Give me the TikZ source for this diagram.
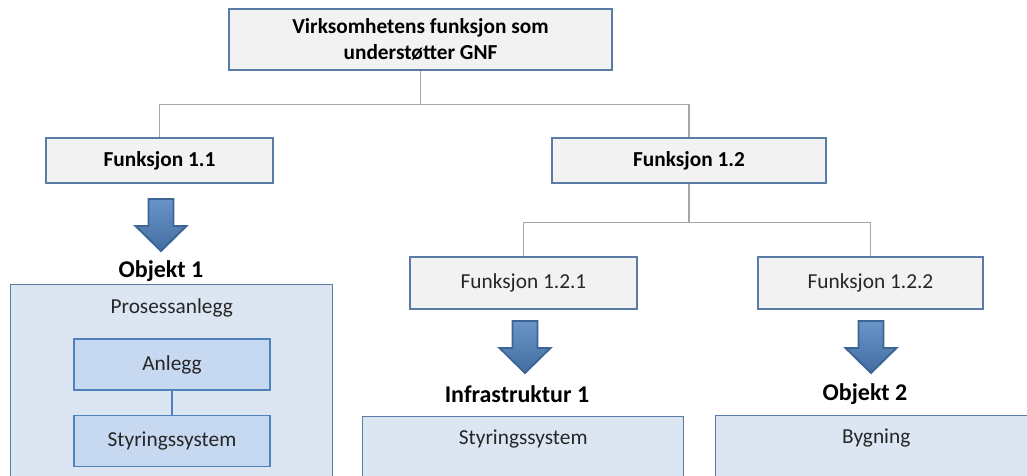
\documentclass[tikz,border=0pt]{standalone}
\usepackage{fontspec}
\setmainfont{Carlito}
\usetikzlibrary{positioning}

\definecolor{boksgraa}{HTML}{F2F2F2}
\definecolor{boksramme}{HTML}{5A7BA6}
\definecolor{linjegraa}{HTML}{A5A5A5}
\definecolor{lysblaa}{HTML}{DCE6F2}
\definecolor{mellomblaa}{HTML}{C6D9F1}
\definecolor{kantblaa}{HTML}{4F81BD}
\definecolor{morkblaa}{HTML}{3C6595}
\definecolor{tekstgraa}{HTML}{262626}

\begin{document}
\begin{tikzpicture}
			[x=0.75pt,y=-0.75pt,
			funksjon/.style={draw=boksramme,fill=boksgraa,line width=0.9pt,
				minimum height=33.75pt,inner sep=2pt,text=black,
				font=\fontsize{16}{20}\selectfont\bfseries},
			underfunksjon/.style={funksjon,minimum height=39pt,text=tekstgraa,
				font=\fontsize{16}{20}\selectfont},
			objekt/.style={draw=boksramme,fill=lysblaa,line width=1.1pt,
				anchor=north west,minimum height=150pt,inner sep=0pt},
			delboks/.style={draw=kantblaa,fill=mellomblaa,line width=0.9pt,
				minimum width=147pt,minimum height=38.25pt,text=tekstgraa,
				font=\fontsize{16}{20}\selectfont},
			tittel/.style={font=\fontsize{18}{22}\selectfont\bfseries,inner sep=0pt},
			boksnavn/.style={text=tekstgraa,font=\fontsize{16}{20}\selectfont,inner sep=0pt},
			linje/.style={draw=linjegraa,line width=1.1pt},
			innerlinje/.style={draw=kantblaa,line width=1.1pt},
			pil/.pic={
				\draw[draw=morkblaa,line width=1.4pt,top color=kantblaa!85!white,bottom color=kantblaa!85!black,shading angle=0]
					(-12.5,0) -- (12.5,0) -- (12.5,27) -- (25.5,27) -- (0,52) -- (-25.5,27) -- (-12.5,27) -- cycle;
			}]
			\useasboundingbox (0,0) rectangle (1027,475);
			\clip (0,0) rectangle (1027,475);
			% toppnivaa
			\node[funksjon,minimum width=287.25pt,minimum height=45.75pt,align=center] (topp) at (420.5,39.5)
				{Virksomhetens funksjon som\\underst\o tter GNF};
			\node[funksjon,minimum width=170.25pt] (f11) at (159.5,160.5) {Funksjon 1.1};
			\node[funksjon,minimum width=205.5pt] (f12) at (689,160.5) {Funksjon 1.2};
			\node[underfunksjon,minimum width=170.25pt] (f121) at (523.5,283) {Funksjon 1.2.1};
			\node[underfunksjon,minimum width=168.75pt] (f122) at (870.5,283) {Funksjon 1.2.2};
			\draw[linje] (topp.south) -- ++(0,34) -| (f11.north);
			\draw[linje] (topp.south) -- ++(0,34) -| (f12.north);
			\draw[linje] (f12.south) -- ++(0,39) -| (f121.north);
			\draw[linje] (f12.south) -- ++(0,39) -| (f122.north);
			% piler
			\pic at (161,199) {pil};
			\pic at (525,321) {pil};
			\pic at (871,321) {pil};
			% objekt 1
			\node[tittel] (obj1navn) at (161,271) {Objekt 1};
			\node[objekt,minimum width=241.5pt] (obj1) at (10,284) {};
			\node[boksnavn,below=11pt of obj1.north] (prosess) {Prosessanlegg};
			\node[delboks] (anlegg) at (172,364.5) {Anlegg};
			\node[delboks] (styring1) at (172,441) {Styringssystem};
			\draw[innerlinje] (anlegg) -- (styring1);
			% infrastruktur 1
			\node[tittel] (infranavn) at (517,394) {Infrastruktur 1};
			\node[objekt,minimum width=240.75pt] (infra) at (362,416) {};
			\node[boksnavn,below=10pt of infra.north] (styring2) {Styringssystem};
			% objekt 2
			\node[tittel] (obj2navn) at (865,394) {Objekt 2};
			\node[objekt,minimum width=240.75pt] (obj2) at (715,415) {};
			\node[boksnavn,below=10pt of obj2.north] (bygning) {Bygning};
		\end{tikzpicture}
\end{document}
